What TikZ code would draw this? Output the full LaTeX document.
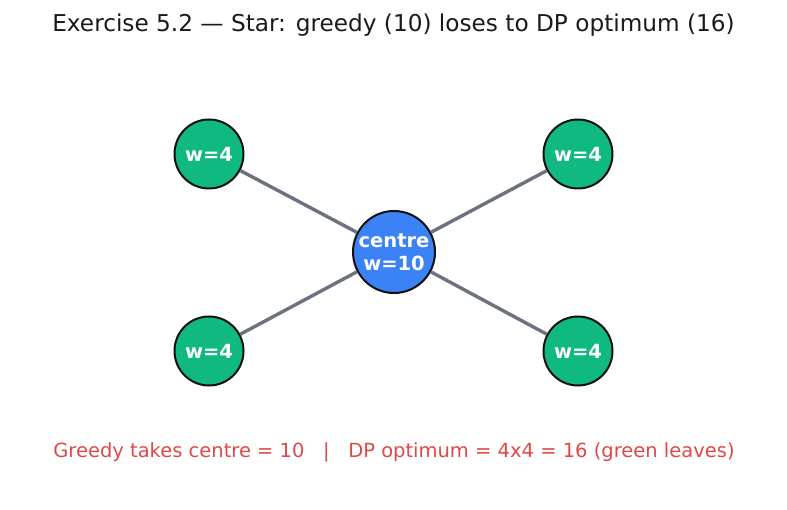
\documentclass[tikz,border=0pt]{standalone}
\usepackage{fontspec}
\setmainfont{DejaVu Sans}
\definecolor{leafgreen}{HTML}{10B981}
\definecolor{centreblue}{HTML}{3B82F6}
\definecolor{edgegray}{HTML}{6B7280}
\definecolor{notered}{HTML}{E04848}
\definecolor{ringdark}{HTML}{111111}
\definecolor{titleink}{HTML}{1A1A1A}
\begin{document}
\begin{tikzpicture}[x=1pt,y=-1pt,
  leaf/.style={circle,draw=ringdark,line width=2pt,fill=leafgreen,minimum size=69pt,inner sep=0pt,text=white,font=\fontsize{19.5}{21}\selectfont\bfseries},
  hub/.style={circle,draw=ringdark,line width=2pt,fill=centreblue,minimum size=82pt,inner sep=0pt,text=white,align=center,font=\fontsize{19.5}{23}\selectfont\bfseries},
  spoke/.style={draw=edgegray,line width=3.4pt}]
\useasboundingbox (0,0) rectangle (787,510);
\node[text=titleink] (title) at (393.5,25) {\fontsize{23.2}{26}\selectfont Exercise 5.2 — Star: greedy (10) loses to DP optimum (16)};
\node[hub] (c) at (394,252) {centre\\w=10};
\node[leaf] (a) at (209,154) {w=4};
\node[leaf] (b) at (578,154) {w=4};
\node[leaf] (d) at (209,351) {w=4};
\node[leaf] (e) at (578,351) {w=4};
\draw[spoke] (c) -- (a);
\draw[spoke] (c) -- (b);
\draw[spoke] (c) -- (d);
\draw[spoke] (c) -- (e);
\node[text=notered] (note) at (394,452) {\fontsize{19.5}{22}\selectfont Greedy takes centre = 10 \ \ | \ \ DP optimum = 4x4 = 16 (green leaves)};
\end{tikzpicture}
\end{document}
